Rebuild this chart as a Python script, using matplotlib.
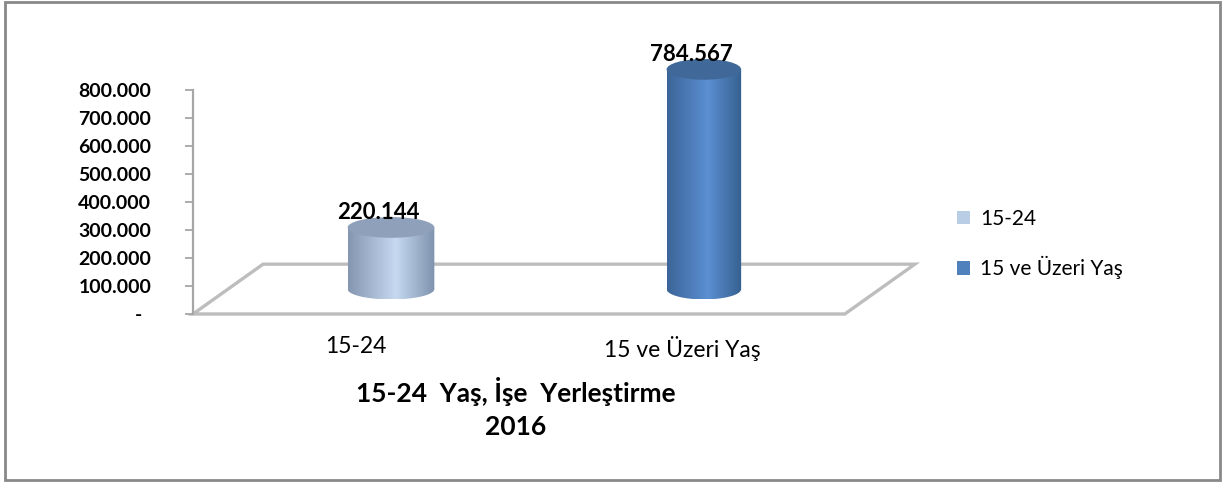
import numpy as np
import matplotlib
matplotlib.use("Agg")
import matplotlib.pyplot as plt
from matplotlib.path import Path
from matplotlib.patches import PathPatch, Ellipse, Rectangle, Polygon, Patch
from matplotlib.colors import LinearSegmentedColormap

# ---- data ----
categories = ["15-24", "15 ve Üzeri Yaş"]
values = [220144, 784567]
value_labels = ["220.144", "784.567"]
ytick_values = [0, 100000, 200000, 300000, 400000, 500000, 600000, 700000, 800000]
ytick_labels = ["-  ", "100.000", "200.000", "300.000", "400.000",
                "500.000", "600.000", "700.000", "800.000"]
title_lines = ["15-24  Yaş, İşe  Yerleştirme", "2016"]
legend_colors = ["#B9CDE5", "#4F81BD"]
body_colors = [["#8496B0", "#C6D9F1", "#7E92AD"],
               ["#3B6598", "#5B8FD2", "#36608F"]]
top_colors = ["#8FA1BA", "#40699A"]

FONT = "Lato"
plt.rcParams["font.family"] = [FONT, "DejaVu Sans"]

W, H = 1227, 482
fig = plt.figure(figsize=(W / 100, H / 100), dpi=100)

# axes: y=0 at 314px from top, 800k at 90px from top
ax_top_px = 40
ax = fig.add_axes([193 / W, (H - 314) / H, 717 / W, (314 - ax_top_px) / H])
ymax = 800000 * (314 - ax_top_px) / 224
ax.set_facecolor("none")

# 3D floor depth in data units
DX = 0.215
DY = 178000
PERSP = 0.96      # slight perspective compression of bar positions
SHRINK = 0.14     # perspective narrowing of farther-right cylinder

floor = Polygon([(-0.5, 0), (1.5, 0), (1.5 + DX, DY), (-0.5 + DX, DY)],
                closed=True, fill=False, ec="#BDBDBD", lw=2.4, zorder=1,
                clip_on=False, joinstyle="miter")
ax.add_patch(floor)

ry = 37000
t = np.linspace(np.pi, 2 * np.pi, 60)
for i, v in enumerate(values):
    half = 0.133 * (1 - SHRINK * i)
    cx = i * PERSP + DX / 2
    base = DY / 2
    top = base + v
    xs = [cx - half, cx - half] + list(cx + half * np.cos(t)) + [cx + half, cx + half]
    ys = [top, base] + list(base + ry * np.sin(t)) + [base, top]
    verts = list(zip(xs, ys)) + [(xs[0], ys[0])]
    codes = [Path.MOVETO] + [Path.LINETO] * (len(verts) - 2) + [Path.CLOSEPOLY]
    body = PathPatch(Path(verts, codes), fc="none", ec="none", transform=ax.transData)
    ax.add_patch(body)
    cmap = LinearSegmentedColormap.from_list(
        "c%d" % i, [(0, body_colors[i][0]), (0.55, body_colors[i][1]), (1, body_colors[i][2])])
    grad = np.linspace(0, 1, 256).reshape(1, -1)
    im = ax.imshow(grad, extent=(cx - half, cx + half, base - ry, top), aspect="auto",
                   cmap=cmap, zorder=3, interpolation="bilinear")
    im.set_clip_path(body)
    ax.add_patch(Ellipse((cx, top), 2 * half, 2 * ry, fc=top_colors[i], ec="none", zorder=4))
    ax.annotate(value_labels[i], xy=(cx, top), xytext=(-9, 11), textcoords="offset points",
                ha="center", va="center", fontsize=16, fontweight="bold", zorder=5)

ax.set_xlim(-0.5, 1.7)
ax.set_ylim(0, ymax)
ax.set_yticks(ytick_values)
ax.set_yticklabels(ytick_labels, fontsize=14, fontweight="bold")
ax.set_xticks([0, 1])
ax.set_xticklabels(categories, fontsize=16.5)
ax.tick_params(axis="x", length=0, pad=16)
ax.tick_params(axis="y", length=6, width=1.3, color="#A6A6A6", pad=24, direction="out")
for s in ["top", "right", "bottom"]:
    ax.spines[s].set_visible(False)
ax.spines["left"].set_color("#A6A6A6")
ax.spines["left"].set_linewidth(1.6)
ax.spines["left"].set_bounds(0, 800000)

# legend
handles = [Patch(fc=c, ec="none") for c in legend_colors]
fig.legend(handles, categories, loc="center left", bbox_to_anchor=(938 / W, 1 - 244 / H),
           frameon=False, fontsize=15, handlelength=0.62, handleheight=0.62,
           handletextpad=0.5, labelspacing=1.3)

# title
fig.text(516 / W, 1 - 392 / H, title_lines[0], ha="center", va="center",
         fontsize=19, fontweight="bold")
fig.text(516 / W, 1 - 427 / H, title_lines[1], ha="center", va="center",
         fontsize=19, fontweight="bold")

# outer border
fig.add_artist(Rectangle((5 / W, 2 / H), 1215 / W, 478 / H, transform=fig.transFigure,
                         fill=False, ec="#898989", lw=2))

fig.savefig("out.png", dpi=100)
